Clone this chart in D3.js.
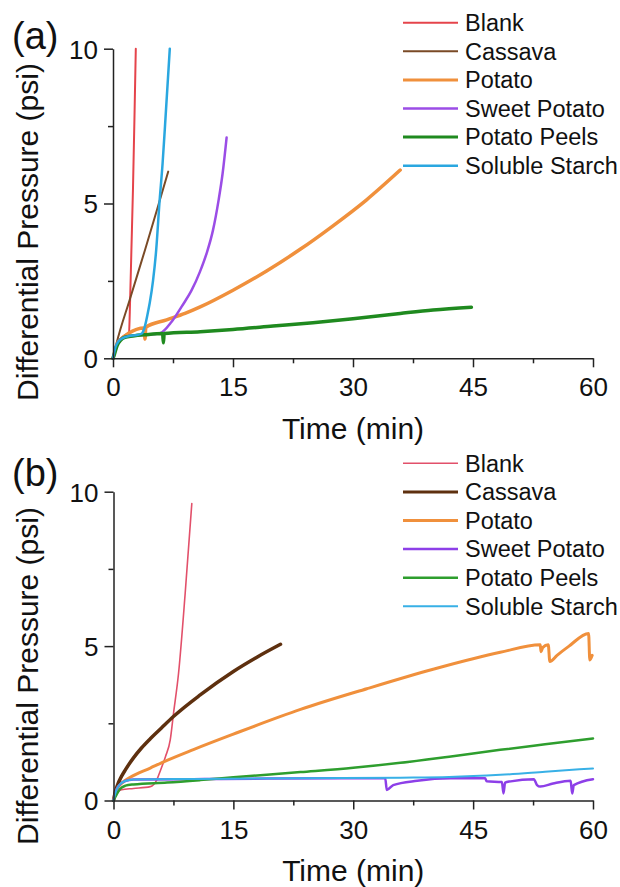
<!DOCTYPE html>
<html>
<head>
<meta charset="utf-8">
<script src="https://cdn.jsdelivr.net/npm/d3@7/dist/d3.min.js"></script>
<style>
  html, body { margin: 0; padding: 0; background: #fff; }
  svg { display: block; font-family: "Liberation Sans", Arial, sans-serif; }
</style>
</head>
<body>
<svg id="chart" width="620" height="887"></svg>
<script>
// ---------- DATA ----------
const seriesNames = ["Blank", "Cassava", "Potato", "Sweet Potato", "Potato Peels", "Soluble Starch"];
const xTicks = [0, 15, 30, 45, 60];
const xMinorTicks = [7.5, 22.5, 37.5, 52.5];
const yTicks = [0, 5, 10];
const yMinorTicks = [2.5, 7.5];
const panelLabels = ["(a)", "(b)"];
const xTitle = "Time (min)";
const yTitle = "Differential Pressure (psi)";

// Panel (a): [time (min), differential pressure (psi)]
const blankA = [[0,0],[0.5,0.45],[1,0.65],[1.5,0.75],[2.0,0.8],[2.1,1.5],[2.3,3.5],[2.5,5.5],[2.7,8],[2.85,10]];
const cassavaA = [[0,0],[0.46,0.5],[2.1,1.9],[4,3.5],[5.5,4.8],[6.9,6.03]];
const potatoA = [[0,0],[0.5,0.45],[1,0.62],[1.9,0.8],[3.9,0.98],[4.0,0.62],[4.1,1.0],[6.7,1.24],[9,1.45],[10.9,1.66],[15,2.2],[19.2,2.82],[23.4,3.52],[27.5,4.28],[31.7,5.12],[35.9,6.08]];
const sweetPotatoA = [[0,0],[0.5,0.45],[1,0.62],[2,0.72],[4,0.76],[5.875,0.81],[7.33,1.18],[8.58,1.67],[9.83,2.2],[10.875,2.8],[11.7,3.39],[12.5,4.14],[13.2,5.11],[13.7,5.97],[14.2,7.13]];
const peelsA = [[0,0],[0.2,0.15],[0.5,0.4],[1,0.6],[1.5,0.68],[2.5,0.72],[4,0.76],[6.2,0.8],[6.3,0.5],[6.4,0.8],[10.9,0.86],[15,0.93],[20,1.04],[25,1.15],[30,1.28],[35.9,1.45],[40,1.56],[44.8,1.65]];
const starchA = [[0,0],[0.3,0.35],[0.7,0.55],[1.2,0.65],[2,0.72],[3,0.75],[3.6,0.8],[4.0,1.05],[4.3,1.4],[4.6,1.8],[5.0,2.5],[5.4,3.5],[5.8,5],[6.2,6.3],[6.5,7.5],[7.1,10]];

// Panel (b)
const blankB = [[0,0],[0.5,0.25],[1,0.35],[2.5,0.39],[4.6,0.45],[5.4,0.66],[5.84,0.95],[6.5,1.42],[7.1,1.96],[7.5,2.8],[8.14,4.12],[8.97,6.71],[9.8,9.62]];
const cassavaB = [[0,0],[0.25,0.3],[0.5,0.5],[1,0.78],[1.5,1.0],[2.5,1.38],[3.5,1.7],[4.6,2.0],[6,2.35],[7.5,2.72],[10.85,3.42],[15,4.18],[18,4.65],[20.9,5.06]];
const potatoB = [[0,0],[0.4,0.35],[1,0.55],[2.1,0.75],[4.6,1.05],[6.7,1.3],[10,1.65],[15,2.15],[23.4,2.95],[31.7,3.62],[40,4.25],[48.4,4.8],[53.4,5.04],[53.5,4.82],[53.7,4.95],[54.4,5.04],[54.6,4.5],[55.5,4.7],[57,5.0],[59.45,5.41],[59.6,4.55],[59.9,4.7]];
const sweetPotatoB = [[0,0],[0.2,0.2],[0.43,0.38],[0.8,0.52],[1.46,0.63],[2.5,0.68],[10,0.69],[20,0.71],[34,0.72],[34.2,0.34],[35,0.5],[38,0.64],[42.2,0.72],[46.5,0.72],[46.7,0.62],[48.6,0.6],[48.8,0.23],[49,0.58],[49.7,0.62],[52.6,0.69],[53,0.5],[53.4,0.45],[55,0.55],[57.2,0.64],[57.4,0.23],[57.6,0.5],[60,0.69]];
const peelsB = [[0,0],[0.4,0.2],[0.84,0.38],[1.5,0.48],[2.5,0.52],[6.7,0.58],[10.85,0.66],[15,0.75],[23.4,0.92],[30,1.06],[35.9,1.22],[42,1.42],[48.4,1.64],[54,1.82],[60,2.01]];
const starchB = [[0,0],[0.2,0.2],[0.43,0.38],[0.8,0.52],[1.46,0.63],[2.5,0.68],[10.85,0.7],[23.4,0.72],[35.9,0.74],[42,0.76],[48.4,0.83],[54,0.93],[60,1.04]];

// ---------- STYLE ----------
const colorsA = ["#e5444b", "#7a4a26", "#f0903c", "#9b4de6", "#1f8a1f", "#2aa7e0"];
const colorsB = ["#e2506a", "#5e300f", "#f0903c", "#8d3fe8", "#2e9e2e", "#38b0e6"];
const widthsA = [2, 2, 3.5, 2.5, 3.5, 2.5];
const widthsB = [1.6, 3.5, 3, 2.5, 2.5, 2];

const panels = [
  { label: panelLabels[0], data: [blankA, cassavaA, potatoA, sweetPotatoA, peelsA, starchA], colors: colorsA, widths: widthsA,
    x0: 113, x1: 593, yBottom: 358.3, yTop: 48.7, labelY: 49, legendY: 22.7, titleY: 439, ytitleCy: 232 },
  { label: panelLabels[1], data: [blankB, cassavaB, potatoB, sweetPotatoB, peelsB, starchB], colors: colorsB, widths: widthsB,
    x0: 113.5, x1: 593, yBottom: 800.5, yTop: 491.7, labelY: 486, legendY: 463.3, titleY: 881, ytitleCy: 676 }
];

const svg = d3.select("#chart");
const axisColor = "#222";

panels.forEach(p => {
  const g = svg.append("g");
  const x = d3.scaleLinear().domain([0, 60]).range([p.x0, p.x1]);
  const y = d3.scaleLinear().domain([0, 10]).range([p.yBottom, p.yTop]);

  // series
  const line = d3.line().x(d => x(d[0])).y(d => y(d[1])).curve(d3.curveMonotoneX);
  p.data.forEach((s, i) => {
    g.append("path").datum(s)
      .attr("d", line)
      .attr("fill", "none")
      .attr("stroke", p.colors[i])
      .attr("stroke-width", p.widths[i])
      .attr("stroke-linejoin", "round")
      .attr("stroke-linecap", "round");
  });

  // minor ticks
  g.append("g").attr("transform", `translate(0,${p.yBottom})`)
    .call(d3.axisBottom(x).tickValues(xMinorTicks).tickSize(5).tickFormat(""))
    .call(a => a.select(".domain").remove());
  g.append("g").attr("transform", `translate(${p.x0},0)`)
    .call(d3.axisLeft(y).tickValues(yMinorTicks).tickSize(5).tickFormat(""))
    .call(a => a.select(".domain").remove());

  // major axes
  const xa = g.append("g").attr("transform", `translate(0,${p.yBottom})`)
    .call(d3.axisBottom(x).tickValues(xTicks).tickSize(9).tickSizeOuter(0).tickFormat(d3.format("d")));
  xa.selectAll("text").attr("y", 38).attr("dy", 0).attr("font-size", 26).attr("fill", "#111");
  const ya = g.append("g").attr("transform", `translate(${p.x0},0)`)
    .call(d3.axisLeft(y).tickValues(yTicks).tickSize(9).tickSizeOuter(0).tickFormat(d3.format("d")));
  ya.selectAll("text").attr("x", -15).attr("dy", "0.36em").attr("font-size", 26).attr("fill", "#111");

  svg.selectAll(".domain, .tick line").attr("stroke", axisColor).attr("stroke-width", 1.5);

  // titles
  g.append("text").attr("x", (p.x0 + p.x1) / 2).attr("y", p.titleY)
    .attr("text-anchor", "middle").attr("font-size", 30).attr("fill", "#111").text(xTitle);
  g.append("text").attr("transform", `translate(38,${p.ytitleCy}) rotate(-90)`)
    .attr("text-anchor", "middle").attr("font-size", 30).attr("fill", "#111").text(yTitle);

  // panel label
  g.append("text").attr("x", 12).attr("y", p.labelY).attr("font-size", 38).attr("fill", "#111").text(p.label);

  // legend
  const lg = g.append("g");
  seriesNames.forEach((name, i) => {
    const ly = p.legendY + i * 28.6;
    lg.append("line").attr("x1", 403).attr("x2", 458).attr("y1", ly).attr("y2", ly)
      .attr("stroke", p.colors[i]).attr("stroke-width", Math.min(p.widths[i], 3));
    lg.append("text").attr("x", 465).attr("y", ly + 8.3).attr("font-size", 23.5).attr("fill", "#111").text(name);
  });
});
</script>
</body>
</html>
